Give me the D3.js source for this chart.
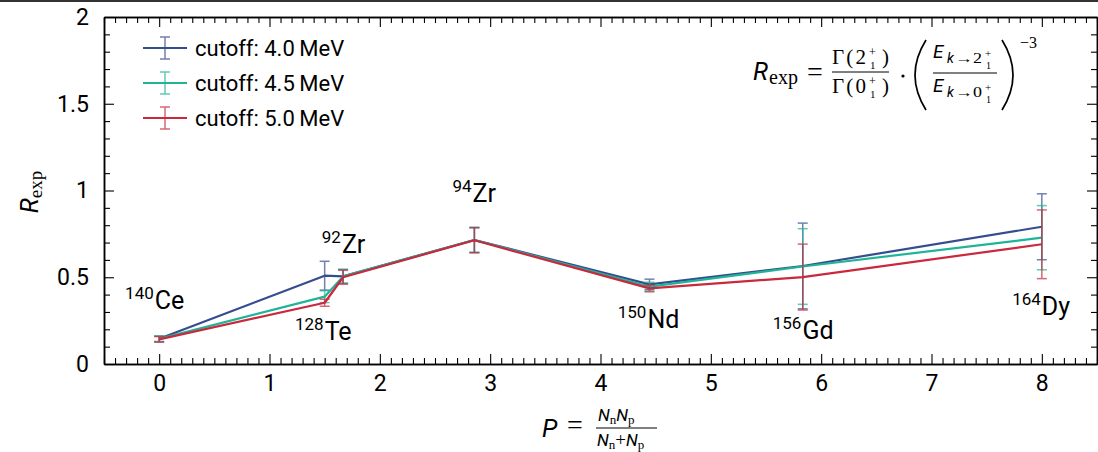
<!DOCTYPE html>
<html>
<head>
<meta charset="utf-8">
<script src="https://cdn.jsdelivr.net/npm/d3@7"></script>
<style>
  body { margin: 0; background: #fff; }
  svg { display: block; }
  text { font-family: Roboto, "Noto Sans", sans-serif; fill: #000; }
</style>
</head>
<body>
<svg id="chart" width="1098" height="452"></svg>
<script>
// ---------- data ----------
const massNumbers = ["140", "128", "92", "94", "150", "156", "164"];
const symbols     = ["Ce", "Te", "Zr", "Zr", "Nd", "Gd", "Dy"];
const pValues     = [0, 1.5, 1.667, 2.857, 4.444, 5.833, 8];

const r40   = [0.145, 0.509, 0.505, 0.715, 0.459, 0.565, 0.791];
const err40 = [0.016, 0.083, 0.040, 0.072, 0.030, 0.247, 0.190];
const r45   = [0.145, 0.388, 0.505, 0.715, 0.446, 0.562, 0.728];
const err45 = [0.016, 0.034, 0.040, 0.072, 0.025, 0.218, 0.185];
const r50   = [0.142, 0.353, 0.500, 0.713, 0.436, 0.501, 0.690];
const err50 = [0.016, 0.020, 0.040, 0.072, 0.020, 0.190, 0.198];

const seriesLabels = ["cutoff: 4.0\u2009MeV", "cutoff: 4.5\u2009MeV", "cutoff: 5.0\u2009MeV"];
const seriesColors = ["#344d8e", "#1fb496", "#c9283d"];

// label anchor (data coords): x of symbol start, y of baseline
const labelX = [-0.04, 1.50, 1.656, 2.84, 4.425, 5.83, 8.0];
const labelY = [0.317, 0.138, 0.640, 0.934, 0.207, 0.144, 0.282];

const xTicks = [0, 1, 2, 3, 4, 5, 6, 7, 8];
const yTicks = [0, 0.5, 1, 1.5, 2];

// ---------- layout ----------
const svg = d3.select("#chart");
const L = 104, R = 1097, T = 17, B = 364;
const x = d3.scaleLinear().domain([-0.5, 8.5]).range([L, R]);
const y = d3.scaleLinear().domain([0, 2]).range([B, T]);

// figure top border line
svg.append("line").attr("x1", 0).attr("x2", 1098).attr("y1", 1).attr("y2", 1)
  .attr("stroke", "#333").attr("stroke-width", 2);

// ---------- axes ----------
const xMinor = d3.range(-5, 86).map(i => i / 10).filter(v => Math.abs(v - Math.round(v)) > 1e-6);
const yMinor = d3.range(0, 21).map(i => i / 10).filter(v => Math.abs(v * 2 - Math.round(v * 2)) > 1e-6);
const fmt = d3.format("~g");

function styleAxis(g) {
  g.select(".domain").attr("stroke", "#000").attr("stroke-width", 1.5);
  g.selectAll(".tick line").attr("stroke", "#000").attr("stroke-width", 1.1);
  g.selectAll("text").style("font-family", "Roboto, sans-serif").style("font-size", "23px").attr("fill", "#000");
}

// bottom
svg.append("g").attr("transform", `translate(0,${B})`)
  .call(d3.axisBottom(x).tickValues(xTicks).tickFormat(fmt).tickSizeInner(-10).tickSizeOuter(0).tickPadding(11))
  .call(styleAxis);
svg.append("g").attr("transform", `translate(0,${B})`)
  .call(d3.axisBottom(x).tickValues(xMinor).tickFormat("").tickSizeInner(-6).tickSizeOuter(0))
  .call(styleAxis);
// top
svg.append("g").attr("transform", `translate(0,${T})`)
  .call(d3.axisTop(x).tickValues(xTicks).tickFormat("").tickSizeInner(-10).tickSizeOuter(0))
  .call(styleAxis);
svg.append("g").attr("transform", `translate(0,${T})`)
  .call(d3.axisTop(x).tickValues(xMinor).tickFormat("").tickSizeInner(-6).tickSizeOuter(0))
  .call(styleAxis);
// left
svg.append("g").attr("transform", `translate(${L},0)`)
  .call(d3.axisLeft(y).tickValues(yTicks).tickFormat(fmt).tickSizeInner(-10).tickSizeOuter(0).tickPadding(15))
  .call(styleAxis);
svg.append("g").attr("transform", `translate(${L},0)`)
  .call(d3.axisLeft(y).tickValues(yMinor).tickFormat("").tickSizeInner(-6).tickSizeOuter(0))
  .call(styleAxis);
// right
svg.append("g").attr("transform", `translate(${R},0)`)
  .call(d3.axisRight(y).tickValues(yTicks).tickFormat("").tickSizeInner(-10).tickSizeOuter(0))
  .call(styleAxis);
svg.append("g").attr("transform", `translate(${R},0)`)
  .call(d3.axisRight(y).tickValues(yMinor).tickFormat("").tickSizeInner(-6).tickSizeOuter(0))
  .call(styleAxis);

// ---------- series ----------
const seriesVals = [r40, r45, r50];
const seriesErrs = [err40, err45, err50];
const line = d3.line().x(d => x(d.p)).y(d => y(d.v));
const cap = 5;

seriesVals.forEach((vals, si) => {
  const pts = vals.map((v, i) => ({ p: pValues[i], v, e: seriesErrs[si][i] }));
  const g = svg.append("g");
  const eb = g.append("g").attr("stroke", seriesColors[si]).attr("stroke-width", 1.5).attr("opacity", 0.7);
  pts.forEach(d => {
    eb.append("line").attr("x1", x(d.p)).attr("x2", x(d.p)).attr("y1", y(d.v - d.e)).attr("y2", y(d.v + d.e));
    eb.append("line").attr("x1", x(d.p) - cap).attr("x2", x(d.p) + cap).attr("y1", y(d.v - d.e)).attr("y2", y(d.v - d.e));
    eb.append("line").attr("x1", x(d.p) - cap).attr("x2", x(d.p) + cap).attr("y1", y(d.v + d.e)).attr("y2", y(d.v + d.e));
  });
  g.append("path").datum(pts).attr("d", line).attr("fill", "none")
    .attr("stroke", seriesColors[si]).attr("stroke-width", 2.2).attr("stroke-linejoin", "round");
});

// ---------- nucleus labels ----------
massNumbers.forEach((m, i) => {
  const lx = x(labelX[i]), ly = y(labelY[i]);
  svg.append("text").attr("x", lx - 1).attr("y", ly - 10).attr("text-anchor", "end")
    .style("font-size", "17px").text(m);
  svg.append("text").attr("x", lx).attr("y", ly).attr("text-anchor", "start")
    .style("font-size", "25px").text(symbols[i]);
});

// ---------- legend ----------
seriesLabels.forEach((lab, i) => {
  const ly = 48 + i * 35;
  const g = svg.append("g");
  g.append("line").attr("x1", 143).attr("x2", 187).attr("y1", ly).attr("y2", ly)
    .attr("stroke", seriesColors[i]).attr("stroke-width", 2.2);
  const eb = g.append("g").attr("stroke", seriesColors[i]).attr("stroke-width", 1.5).attr("opacity", 0.7);
  eb.append("line").attr("x1", 165).attr("x2", 165).attr("y1", ly - 11).attr("y2", ly + 11);
  eb.append("line").attr("x1", 160).attr("x2", 170).attr("y1", ly - 11).attr("y2", ly - 11);
  eb.append("line").attr("x1", 160).attr("x2", 170).attr("y1", ly + 11).attr("y2", ly + 11);
  g.append("text").attr("x", 195).attr("y", ly + 8).style("font-size", "22px").text(lab);
});

// ---------- formula (top right) ----------
const SER = "Liberation Serif, DejaVu Serif, serif";
const f = svg.append("g");
function txt(g, tx, ty, s, size, family, italic) {
  const t = g.append("text").attr("x", tx).attr("y", ty).style("font-size", size + "px").text(s);
  if (family) t.style("font-family", family);
  if (italic) t.style("font-style", "italic");
  return t;
}
txt(f, 753, 80, "R", 25, null, true);
txt(f, 769, 84, "exp", 20, SER);
txt(f, 807, 81, "=", 28, SER);
function gammaTerm(gx, by, d) {
  txt(f, gx, by, "\u0393(" + d, 21, SER).attr("textLength", 34).attr("lengthAdjust", "spacing");
  txt(f, gx + 37, by - 8, "+", 12, SER);
  txt(f, gx + 38, by + 5, "1", 11, SER);
  txt(f, gx + 50, by, ")", 21, SER);
}
gammaTerm(832, 64, "2");
f.append("line").attr("x1", 832).attr("x2", 889).attr("y1", 72).attr("y2", 72).attr("stroke", "#000").attr("stroke-width", 1);
gammaTerm(832, 93, "0");
f.append("circle").attr("cx", 903).attr("cy", 76).attr("r", 1.6).attr("fill", "#000");
// big parentheses
f.append("path").attr("d", "M926,40 Q904,75 926,110").attr("fill", "none").attr("stroke", "#000").attr("stroke-width", 1.7);
f.append("path").attr("d", "M1002,40 Q1024,75 1002,110").attr("fill", "none").attr("stroke", "#000").attr("stroke-width", 1.7);
function energyTerm(ex, by, d) {
  txt(f, ex, by, "E", 19, null, true);
  txt(f, ex + 14, by + 5, "k", 14, null, true);
  txt(f, ex + 22, by + 5, "\u2192" + d, 14, SER).attr("textLength", 27).attr("lengthAdjust", "spacingAndGlyphs");
  txt(f, ex + 52, by - 1, "+", 11, SER);
  txt(f, ex + 53, by + 11, "1", 10, SER);
}
energyTerm(933, 58, "2");
f.append("line").attr("x1", 933).attr("x2", 997).attr("y1", 73).attr("y2", 73).attr("stroke", "#000").attr("stroke-width", 1);
energyTerm(933, 92, "0");
txt(f, 1020, 48, "\u22123", 16, SER);

// ---------- axis titles ----------
const xt = svg.append("g");
txt(xt, 542, 437, "P", 25, null, true);
txt(xt, 567, 434, "=", 28, SER);
function nTerm(xx, by, withPlus) {
  const t = xt.append("text").attr("x", xx).attr("y", by).style("font-size", "17px");
  t.append("tspan").style("font-style", "italic").text("N");
  t.append("tspan").style("font-family", SER).style("font-size", "13px").attr("dy", 3).text("n");
  if (withPlus) t.append("tspan").style("font-family", SER).style("font-size", "19px").attr("dy", -3).text("+");
  t.append("tspan").style("font-style", "italic").attr("dy", withPlus ? 0 : -3).text("N");
  t.append("tspan").style("font-family", SER).style("font-size", "13px").attr("dy", 3).text("p");
}
nTerm(598, 421, false);
xt.append("line").attr("x1", 596).attr("x2", 657).attr("y1", 428).attr("y2", 428).attr("stroke", "#000").attr("stroke-width", 1);
nTerm(597, 446, true);

const yt = svg.append("text").attr("transform", "translate(38,192) rotate(-90)").attr("text-anchor", "middle");
yt.append("tspan").style("font-size", "25px").style("font-style", "italic").text("R");
yt.append("tspan").style("font-family", SER).style("font-size", "19px").attr("dy", 4).text("exp");
</script>
</body>
</html>
